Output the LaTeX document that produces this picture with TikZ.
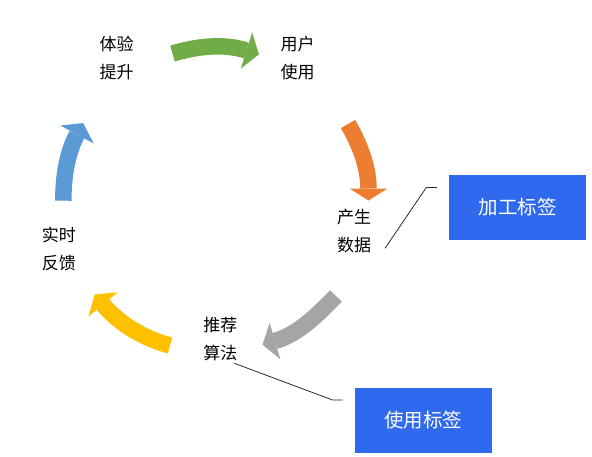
\documentclass[tikz,border=0pt]{standalone}
\usepackage{fontspec}
\setmainfont{Noto Sans CJK SC}
\usepackage{tikz}
\usetikzlibrary{positioning, calc}
\usepackage{xcolor}

\definecolor{arrgreen}{RGB}{112,173,71}
\definecolor{arrorange}{RGB}{237,125,49}
\definecolor{arrgray}{RGB}{165,165,165}
\definecolor{arryellow}{RGB}{255,192,0}
\definecolor{arrblue}{RGB}{91,155,213}
\definecolor{tagblue}{RGB}{47,106,238}
\definecolor{linenavy}{RGB}{35,40,65}

\begin{document}
\begin{tikzpicture}[x=1pt, y=-1pt,
    word/.style={align=center, inner sep=0pt, font=\fontsize{17}{27.5}\selectfont},
    tagbox/.style={fill=tagblue, text=white, minimum width=137pt, minimum height=65pt, inner sep=0pt, font=\fontsize{19.5}{24}\selectfont},
    shaft/.style={line width=16.5pt},
    callout/.style={draw=linenavy, line width=0.8pt}]
      \useasboundingbox (0, 0) rectangle (592, 456);

      % the five steps
      \node[word] (tiyan) at (116.5, 58) {体验\\提升};
      \node[word] (yonghu) at (297.5, 58) {用户\\使用};
      \node[word] (shuju) at (354, 231) {产生\\数据};
      \node[word] (suanfa) at (220.3, 339) {推荐\\算法};
      \node[word] (fankui) at (58.8, 249) {实时\\反馈};

      % tags
      \node[tagbox] (jiagong) at (517.5, 207.5) {加工标签};
      \node[tagbox] (shiyong) at (423.3, 420.5) {使用标签};

      % curved arrows
      \draw[shaft, arrgreen] (172.5, 53.5) .. controls (196.5, 46.5) and (222.7, 43) .. (246.5, 50.5);
      \fill[arrgreen] (252.2, 32.4) -- (258.9, 54.4) -- (240.8, 68.6) -- cycle;

      \draw[shaft, arrorange] (348, 124) .. controls (359, 143) and (368.5, 166) .. (368.5, 188.5);
      \fill[arrorange] (349.5, 188.5) -- (368.5, 200.5) -- (387.5, 188.5) -- cycle;

      \draw[shaft, arrgray] (336, 296) .. controls (318.3, 313.7) and (299, 334) .. (275, 341);
      \fill[arrgray] (269.7, 322.8) -- (262.5, 344.6) -- (280.3, 359.2) -- cycle;

      \draw[shaft, arryellow] (170, 345.5) .. controls (144.8, 338.7) and (119.6, 324.5) .. (103, 304.5);
      \fill[arryellow] (117.6, 292.3) -- (94.7, 294.5) -- (88.4, 316.7) -- cycle;

      \draw[shaft, arrblue] (63.3, 200.7) .. controls (63.3, 178.7) and (66.5, 153.9) .. (77, 134.5);
      \fill[arrblue] (60.3, 125.5) -- (83.2, 123.1) -- (93.7, 143.5) -- cycle;

      % callout lines
      \coordinate (shujuend) at (385, 248.3);
      \coordinate (suanfaend) at (234.3, 363.3);
      \draw[callout] ($(jiagong.west)+(-12, -20)$) -- ++(-10.5, 0) -- (shujuend);
      \draw[callout] ($(shiyong.west)+(-12, -20.5)$) -- ++(-10, 0) -- (suanfaend);

    \end{tikzpicture}
\end{document}
